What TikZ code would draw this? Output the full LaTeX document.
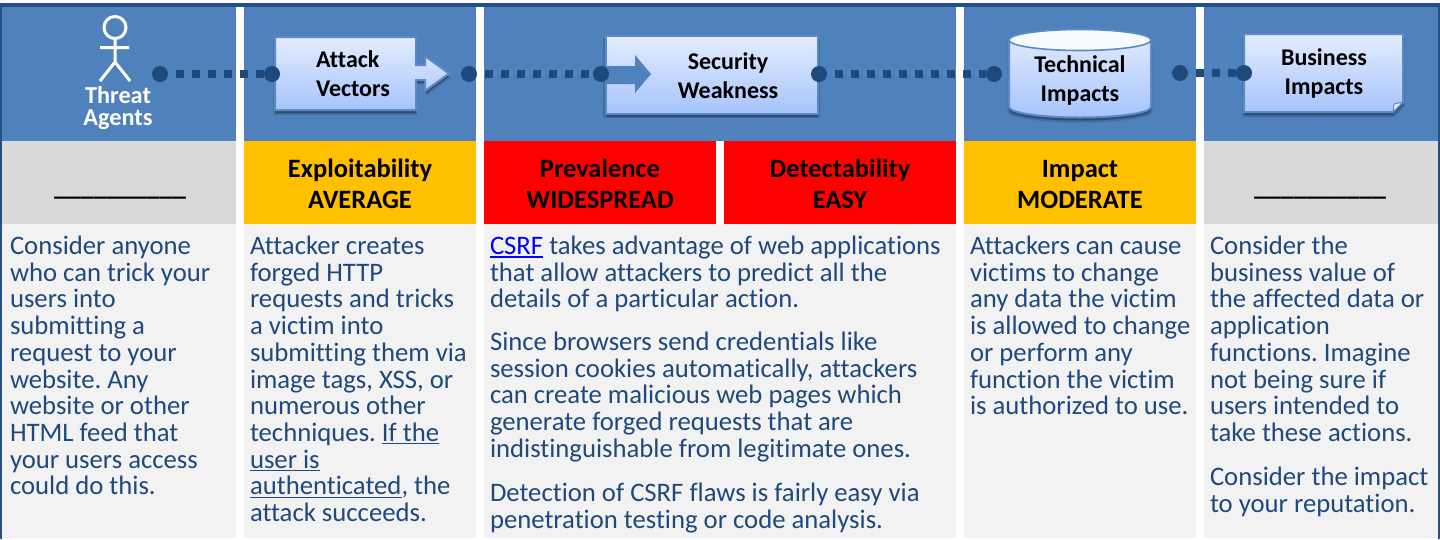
\documentclass[tikz,border=0pt]{standalone}
\usepackage{fontspec}
\setmainfont[Ligatures=NoCommon]{Carlito}
\usetikzlibrary{shadows,shapes.geometric}
\definecolor{band}{HTML}{4F81BD}
\definecolor{edge}{HTML}{254F85}
\definecolor{dotc}{HTML}{1F497D}
\definecolor{greyr}{HTML}{D9D9D9}
\definecolor{bodyc}{HTML}{F2F2F2}
\definecolor{amber}{HTML}{FFC000}
\definecolor{txt}{HTML}{1F497D}
\definecolor{boxtop}{HTML}{E4EDFE}
\definecolor{boxbot}{HTML}{A6C4FC}
\definecolor{boxline}{HTML}{5B8AC6}
\definecolor{linkc}{HTML}{0000FF}
\newsavebox{\ulbox}
\newcommand{\ulx}[1]{\sbox{\ulbox}{#1}\rlap{\rule[-3pt]{\wd\ulbox}{1.3pt}}\usebox{\ulbox}}
\frenchspacing
\tikzset{
 x=1pt,y=-1pt,
 rating/.style={font=\fontsize{26.5}{31.2}\selectfont\bfseries,align=center,text=black,anchor=center,inner sep=0pt},
 bodytxt/.style={font=\fontsize{26.7}{26.7}\selectfont,text=txt,align=left,anchor=north west,inner sep=0pt,outer sep=0pt},
 boxlabel/.style={font=\fontsize{24}{29}\selectfont\bfseries,align=center,text=black,inner sep=0pt},
 gradbox/.style={draw=boxline,line width=2pt,top color=boxtop,bottom color=boxbot,
   drop shadow={shadow xshift=0pt,shadow yshift=-4pt,shadow scale=1.02,fill=black,opacity=.15},
   drop shadow={shadow xshift=0pt,shadow yshift=-3pt,fill=black,opacity=.3}},
 dotnode/.style={circle,fill=dotc,inner sep=0pt,minimum size=16pt,draw=none},
 link/.style={line width=8pt,draw=dotc,dash pattern=on 8pt off 8pt,dash phase=8pt},
}
\begin{document}
\begin{tikzpicture}
\useasboundingbox (0,0) rectangle (1440,539);
\fill[white] (0,0) rectangle (1440,539);
\fill[edge] (0,3) rectangle (1440,7);
\fill[edge] (0,3) rectangle (2,539);
\fill[edge] (1438,3) rectangle (1440,539);
% bands
\fill[band] (2,7) rectangle (236,141);
\fill[band] (244,7) rectangle (476,141);
\fill[band] (484,7) rectangle (956,141);
\fill[band] (964,7) rectangle (1196,141);
\fill[band] (1204,7) rectangle (1438,141);
% ratings
\fill[greyr] (2,141) rectangle (236,224);
\fill[amber] (244,141) rectangle (476,224);
\fill[red] (484,141) rectangle (716,224);
\fill[red] (724,141) rectangle (956,224);
\fill[amber] (964,141) rectangle (1196,224);
\fill[greyr] (1204,141) rectangle (1438,224);
% body
\fill[bodyc] (2,224) rectangle (236,538);
\fill[bodyc] (244,224) rectangle (476,538);
\fill[bodyc] (484,224) rectangle (956,538);
\fill[bodyc] (964,224) rectangle (1196,538);
\fill[bodyc] (1204,224) rectangle (1438,538);
% rating text
\node[rating] (r2) at (360,184) {Exploitability\\AVERAGE};
\node[rating] (r3) at (600,184) {Prevalence\\WIDESPREAD};
\node[rating] (r4) at (840,184) {Detectability\\EASY};
\node[rating] (r5) at (1080,184.5) {Impact\\MODERATE};
\node[rating,anchor=base] (r1) at (120,195) {\_\_\_\_\_\_\_\_\_\_};
\node[rating,anchor=base] (r6) at (1320,195) {\_\_\_\_\_\_\_\_\_\_};
% stick figure
\begin{scope}[draw=white,line width=3pt]
\draw (115,27.5) circle (11pt);
\draw (115,38.5) -- (115,62) (100,47.5) -- (129,47.5) (100,81) -- (115,62) -- (130,81);
\end{scope}
\node[font=\fontsize{24.3}{22}\selectfont\bfseries,text=white,align=center,inner sep=0pt] (threat) at (118,108) {Threat\\Agents};
% box shapes
\path[gradbox] (275,37) -- (416,37) -- (416,65) -- (425,65) -- (425,56) -- (449,73.5) -- (425,91) -- (425,80) -- (416,80) -- (416,110) -- (275,110) -- cycle;
\node[boxlabel,align=left] (attack) at (353,73.5) {Attack\\Vectors};
\node[gradbox,minimum width=212pt,minimum height=78pt,inner sep=0pt] (weak) at (711.5,74.5) {};
\fill[band] (605,66) -- (635,66) -- (635,55) -- (651,74) -- (635,93) -- (635,84) -- (605,84) -- cycle;
\node[boxlabel] (sec) at (728,76) {Security\hspace{12pt}\\Weakness};
\path[gradbox] (1009,40) -- (1009,107) arc[start angle=180,end angle=360,x radius=71,y radius=-10.5] -- (1151,40) arc[start angle=0,end angle=180,x radius=71,y radius=-10.5] -- cycle;
\draw[boxline,line width=1.6pt,fill=white!70!boxtop] (1080,40) ellipse (71pt and 10.5pt);
\node[boxlabel] (tech) at (1080,80) {Technical\\Impacts};
\path[gradbox] (1244,34) -- (1403,34) -- (1403,102) -- (1393,112) -- (1244,112) -- cycle;
\fill[boxtop,draw=boxline,line width=1pt] (1393,112) -- (1394,104) -- (1403,102) -- cycle;
\node[boxlabel] (bus) at (1324,73.5) {Business\\Impacts};
% connectors
\node[dotnode] (d1) at (160,74) {};
\node[dotnode] (d2) at (272,74) {};
\node[dotnode] (d3) at (469,74) {};
\node[dotnode] (d4) at (601,74) {};
\node[dotnode] (d5) at (819,74) {};
\node[dotnode] (d6) at (994,74) {};
\node[dotnode] (d7) at (1180,73) {};
\node[dotnode] (d8) at (1244,73) {};
\draw[link] (d1) -- (d2);
\draw[link] (d3) -- (d4);
\draw[link] (d5) -- (d6);
\draw[link] (d7) -- (d8);
% body text
\node[bodytxt] (t1) at (10,236) {Consider anyone\\who can trick your\\users into\\submitting a\\request to your\\website. Any\\website or other\\HTML feed that\\your users access\\could do this.};
\node[bodytxt] (t2) at (250,236) {Attacker creates\\forged HTTP\\requests and tricks\\a victim into\\submitting them via\\image tags, XSS, or\\numerous other\\techniques. \ulx{If the}\\\ulx{user is}\\\ulx{authenticated}, the\\attack succeeds.};
\node[bodytxt] (t3a) at (490,236) {\textcolor{linkc}{\ulx{CSRF}} takes advantage of web applications\\that allow attackers to predict all the\\details of a particular action.};
\node[bodytxt] (t3b) at (490,332) {Since browsers send credentials like\\session cookies automatically, attackers\\can create malicious web pages which\\generate forged requests that are\\indistinguishable from legitimate ones.};
\node[bodytxt] (t3c) at (490,483) {Detection of CSRF flaws is fairly easy via\\penetration testing or code analysis.};
\node[bodytxt] (t4) at (970,236) {Attackers can cause\\victims to change\\any data the victim\\is allowed to change\\or perform any\\function the victim\\is authorized to use.};
\node[bodytxt] (t5a) at (1210,236) {Consider the\\business value of\\the affected data or\\application\\functions. Imagine\\not being sure if\\users intended to\\take these actions.};
\node[bodytxt] (t5b) at (1210,467) {Consider the impact\\to your reputation.};
\end{tikzpicture}
\end{document}
